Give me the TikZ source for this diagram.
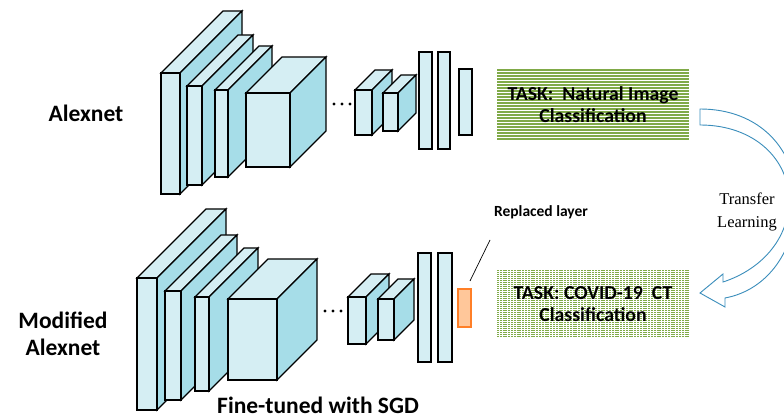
\documentclass[tikz,border=0pt]{standalone}
\usepackage{fontspec}
\setmainfont{Carlito}
\newfontfamily\tlfont{Liberation Serif}
\usepackage{tikz}
\usetikzlibrary{calc}
\definecolor{frontblue}{HTML}{D5EEF3}
\definecolor{sideblue}{HTML}{A6DDE8}
\definecolor{stripegreen}{HTML}{80AA48}
\definecolor{arrowblue}{HTML}{3A8DBB}
\definecolor{replfill}{HTML}{FFC79A}
\definecolor{replline}{HTML}{FF7F27}
\newcommand\cuboid[5]{% x, y, width, height, depth
  \filldraw[block, fill=frontblue] (#1,#2) -- ++(#5,-#5) -- ++(#3,0) -- ++(-#5,#5) -- cycle;
  \filldraw[block, fill=sideblue] (#1+#3,#2) -- ++(#5,-#5) -- ++(0,#4) -- ++(-#5,#5) -- cycle;
  \filldraw[block, fill=frontblue] (#1,#2) rectangle ++(#3,#4);
}

\begin{document}
\begin{tikzpicture}[
    x=1pt, y=-1pt,
    block/.style={draw=black, line width=1.3pt},
    label/.style={font=\bfseries\fontsize{23.5}{27}\selectfont, align=center},
    taskbox/.style={minimum width=192pt, minimum height=#1, inner sep=0pt, align=center,
      font=\bfseries\fontsize{19.8}{22.5}\selectfont},
    dot/.style={fill=black}
  ]
    \useasboundingbox (0,0) rectangle (784,419);
    \clip (0,0) rectangle (784,419);

    % original network
    \cuboid{161}{73}{19}{121}{62}
    \cuboid{187}{86}{15}{99}{51}
    \cuboid{215}{90}{13}{87}{44}
    \cuboid{246}{93}{44}{74}{36}
    \foreach \x in {334,342,350}{
      \fill[dot] (\x,104) circle (1.7);
    }
    \cuboid{355}{90}{17}{45}{20}
    \cuboid{383}{93}{15}{38}{18}
    \filldraw[block, fill=frontblue] (419,52) rectangle (432,149);
    \filldraw[block, fill=frontblue] (438,52) rectangle (450,149);
    \filldraw[block, fill=frontblue] (459,69) rectangle (472,135);

    % modified network
    \cuboid{137}{278}{20}{132}{69}
    \cuboid{165}{291}{16}{109}{56}
    \cuboid{195}{297}{14}{94}{49}
    \cuboid{228}{299}{49}{81}{40}
    \foreach \x in {325,333,341}{
      \fill[dot] (\x,311) circle (1.7);
    }
    \cuboid{348}{297}{18}{47}{23}
    \cuboid{378}{299}{16}{41}{20}
    \filldraw[block, fill=frontblue] (418,253) rectangle (431,362);
    \filldraw[block, fill=frontblue] (438,253) rectangle (452,362);
    \node[draw=replline, fill=replfill, line width=1.5pt, minimum width=13pt, minimum height=38pt,
      inner sep=0pt] (repl) at (464.5,308) {};

    \coordinate (leadlow) at (470,281);
    \coordinate (leadhigh) at (490,240);
    \draw[line width=0.7pt] (leadlow) -- (leadhigh);
    \node[font=\bfseries\fontsize{15.5}{18}\selectfont] (repltext) at (541,212) {Replaced layer};

    % task boxes
    \node[taskbox=71pt, path picture={
        \foreach \i in {0,...,23}{
          \draw[stripegreen, line width=1.4pt]
            ([yshift=-\i*3pt-1pt]path picture bounding box.north west) --
            ([yshift=-\i*3pt-1pt]path picture bounding box.north east);
        }}] (task1) at (593,104.5) {TASK:\ \ Natural Image\\Classification};
    \node[taskbox=68pt, path picture={
        \foreach \i in {0,...,33}{
          \draw[stripegreen, line width=1pt, dash pattern=on 2pt off 0.8pt]
            ([yshift=-\i*2pt-1pt]path picture bounding box.north west) --
            ([yshift=-\i*2pt-1pt]path picture bounding box.north east);
        }}] (task2) at (593,304) {TASK: COVID-19\ \ CT\\Classification};

    % transfer arrow
    \filldraw[draw=arrowblue, fill=white, line width=0.9pt]
      (700,109) .. controls (760,109) and (796,150) .. (796,200)
      .. controls (796,250) and (768,290) .. (725,298)
      -- (725,307) -- (700,293) -- (723,274) -- (723,282)
      .. controls (760,270) and (789,240) .. (789,200)
      .. controls (789,160) and (755,125) .. (700,125) -- cycle;
    \node[font=\tlfont\fontsize{16.5}{23}\selectfont, align=center] (transfer) at (747,212)
      {Transfer\\Learning};

    % labels
    \node[label] (alex) at (86,113) {Alexnet};
    \node[label] (modalex) at (63,334) {Modified\\Alexnet};
    \node[label] (sgd) at (318,405) {Fine-tuned with SGD};

  \end{tikzpicture}
\end{document}
